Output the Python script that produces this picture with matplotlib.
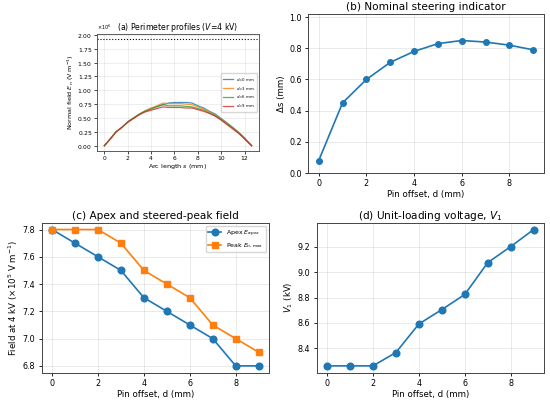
import numpy as np
import matplotlib
matplotlib.use("Agg")
import matplotlib.pyplot as plt

# pin offsets (mm)
d = [0, 1, 2, 3, 4, 5, 6, 7, 8, 9]

# (a) perimeter profiles, field in units of 1e6 V/m
s = [0.0, 0.5, 1.0, 1.5, 2.0, 2.5, 3.0, 3.5, 4.0, 4.5, 5.0, 5.5, 6.0, 6.5,
     7.0, 7.5, 8.0, 8.5, 9.0, 9.5, 10.0, 10.5, 11.0, 11.5, 12.0, 12.5, 12.6]
E_d0 = [0.00, 0.12, 0.25, 0.33, 0.43, 0.50, 0.57, 0.63, 0.67, 0.71, 0.74, 0.77, 0.78, 0.78,
        0.78, 0.77, 0.72, 0.68, 0.62, 0.57, 0.49, 0.41, 0.33, 0.24, 0.14, 0.02, 0.00]
E_d3 = [0.00, 0.12, 0.25, 0.33, 0.43, 0.50, 0.57, 0.63, 0.68, 0.72, 0.77, 0.76, 0.76, 0.76,
        0.75, 0.74, 0.70, 0.66, 0.61, 0.55, 0.48, 0.40, 0.32, 0.23, 0.13, 0.02, 0.00]
E_d6 = [0.00, 0.12, 0.25, 0.33, 0.43, 0.50, 0.57, 0.62, 0.66, 0.70, 0.74, 0.72, 0.72, 0.72,
        0.71, 0.70, 0.67, 0.64, 0.59, 0.54, 0.47, 0.39, 0.31, 0.23, 0.13, 0.02, 0.00]
E_d9 = [0.00, 0.12, 0.25, 0.33, 0.42, 0.49, 0.56, 0.61, 0.64, 0.67, 0.70, 0.69, 0.69, 0.69,
        0.68, 0.68, 0.65, 0.62, 0.58, 0.53, 0.46, 0.38, 0.30, 0.22, 0.12, 0.02, 0.00]
profile_labels = ["$d$=0 mm", "$d$=3 mm", "$d$=6 mm", "$d$=9 mm"]
E_limit = 1.92  # dotted reference line, x1e6 V/m

# (b) steering indicator
delta_s = [0.08, 0.45, 0.60, 0.71, 0.78, 0.83, 0.85, 0.84, 0.82, 0.79]

# (c) apex and steered-peak field (x1e5 V/m)
E_apex = [7.8, 7.7, 7.6, 7.5, 7.3, 7.2, 7.1, 7.0, 6.8, 6.8]
E_peak = [7.8, 7.8, 7.8, 7.7, 7.5, 7.4, 7.3, 7.1, 7.0, 6.9]

# (d) unit-loading voltage (kV)
V1 = [8.263, 8.263, 8.263, 8.368, 8.592, 8.705, 8.824, 9.074, 9.20, 9.334]

W, H = 550, 404
fig = plt.figure(figsize=(5.5, 4.04), dpi=100)

def box(l, r, t, b):
    return [l / W, (H - b) / H, (r - l) / W, (b - t) / H]

ax_a = fig.add_axes(box(97, 259, 34, 151))
ax_b = fig.add_axes(box(308, 544, 14, 173))
ax_c = fig.add_axes(box(41.7, 269, 222.7, 372.7))
ax_d = fig.add_axes(box(316.7, 544, 222.7, 372.7))

fs_tick, fs_lab, fs_title = 5.8, 6.2, 7.6
spine_col = "#444444"

# (a)
for E, lab in zip([E_d0, E_d3, E_d6, E_d9], profile_labels):
    ax_a.plot(s, np.array(E) * 1e6, lw=0.9, alpha=0.8, label=lab)
ax_a.axhline(E_limit * 1e6, color="k", ls=":", lw=0.8)
ax_a.ticklabel_format(axis="y", style="sci", scilimits=(0, 0), useMathText=True)
ax_a.set_title("(a) Perimeter profiles ($V$=4 kV)", fontsize=5.6, pad=3)
ax_a.set_xlabel("Arc length $s$ (mm)", fontsize=4.6, labelpad=1)
ax_a.set_ylabel("Normal field $E_n$ (V m$^{-1}$)", fontsize=4.6, labelpad=1)
ax_a.tick_params(labelsize=4.3, length=2, pad=1.5, width=0.5)
ax_a.yaxis.get_offset_text().set_fontsize(3.5)
ax_a.grid(True, alpha=0.3, lw=0.5)
ax_a.legend(loc="center right", fontsize=2.8, handlelength=2.5, borderpad=0.6)
for sp in ax_a.spines.values():
    sp.set_linewidth(0.6)
    sp.set_color(spine_col)

# (b)
ax_b.plot(d, delta_s, marker="o", ms=4, lw=1.2)
ax_b.set_ylim(0, 1.02)
ax_b.set_title("(b) Nominal steering indicator", fontsize=fs_title, pad=3)
ax_b.set_xlabel("Pin offset, d (mm)", fontsize=fs_lab, labelpad=1.5)
ax_b.set_ylabel("Δs (mm)", fontsize=fs_lab, labelpad=2)

# (c)
ax_c.plot(d, E_apex, marker="o", ms=4.8, lw=1.2, label="Apex $E_{apex}$")
ax_c.plot(d, E_peak, marker="s", ms=4.8, lw=1.2, label="Peak $E_{n,\\max}$")
ax_c.set_title("(c) Apex and steered-peak field", fontsize=fs_title, pad=3)
ax_c.set_xlabel("Pin offset, d (mm)", fontsize=fs_lab, labelpad=1.5)
ax_c.set_ylabel("Field at 4 kV ($\\times10^5$ V m$^{-1}$)", fontsize=fs_lab, labelpad=2)
ax_c.legend(loc="upper right", fontsize=4.5)

# (d)
ax_d.plot(d, V1, marker="o", ms=4.8, lw=1.2)
ax_d.set_title("(d) Unit-loading voltage, $V_1$", fontsize=fs_title, pad=3)
ax_d.set_xlabel("Pin offset, d (mm)", fontsize=fs_lab, labelpad=1.5)
ax_d.set_ylabel("$V_1$ (kV)", fontsize=fs_lab, labelpad=2)

for ax in [ax_b, ax_c, ax_d]:
    ax.grid(True, alpha=0.3, lw=0.6)
    ax.tick_params(labelsize=fs_tick, length=2.5, pad=2, width=0.6)
    for sp in ax.spines.values():
        sp.set_linewidth(0.7)
        sp.set_color(spine_col)

fig.savefig("out.png", dpi=100)
